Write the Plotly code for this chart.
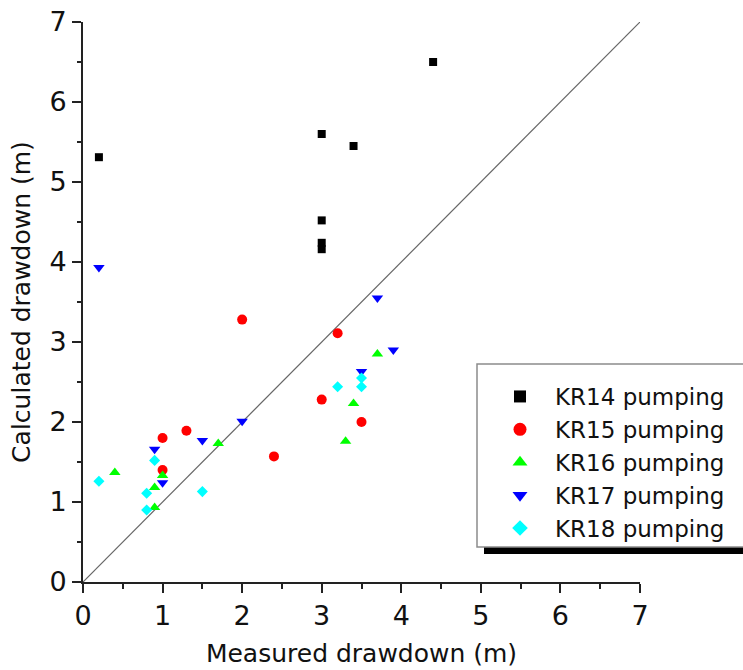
import plotly.graph_objects as go

# Measured vs calculated drawdown (m) for each pumping test
kr14_measured = [0.2, 3.0, 3.4, 3.0, 3.0, 3.0, 4.4]
kr14_calculated = [5.31, 5.60, 5.45, 4.52, 4.24, 4.16, 6.50]

kr15_measured = [1.0, 1.0, 1.3, 2.0, 2.4, 3.0, 3.2, 3.5]
kr15_calculated = [1.80, 1.40, 1.89, 3.28, 1.57, 2.28, 3.11, 2.00]

kr16_measured = [0.4, 0.9, 0.9, 1.0, 1.7, 3.3, 3.4, 3.7]
kr16_calculated = [1.37, 1.18, 0.93, 1.33, 1.73, 1.76, 2.23, 2.85]

kr17_measured = [0.2, 0.9, 1.0, 1.5, 2.0, 3.5, 3.7, 3.9]
kr17_calculated = [3.93, 1.66, 1.24, 1.77, 2.01, 2.63, 3.55, 2.90]

kr18_measured = [0.2, 0.8, 0.8, 0.9, 1.5, 3.2, 3.5, 3.5]
kr18_calculated = [1.26, 1.11, 0.90, 1.52, 1.13, 2.44, 2.44, 2.55]

series_names = ["KR14 pumping", "KR15 pumping", "KR16 pumping", "KR17 pumping", "KR18 pumping"]
one_to_one = [0, 7]
tick_values = [0, 1, 2, 3, 4, 5, 6, 7]

FONT = "DejaVu Sans"

series = [
    (kr14_measured, kr14_calculated, "square", "#000000", 8, 12),
    (kr15_measured, kr15_calculated, "circle", "#ff0000", 10, 13),
    (kr16_measured, kr16_calculated, "triangle-up", "#00ff00", 10, 13),
    (kr17_measured, kr17_calculated, "triangle-down", "#0000ff", 10, 13),
    (kr18_measured, kr18_calculated, "diamond", "#00ffff", 8.5, 12),
]

fig = go.Figure()

# 1:1 reference line
fig.add_trace(go.Scatter(
    x=one_to_one, y=one_to_one, mode="lines",
    line=dict(color="#666666", width=1.2),
    showlegend=False, hoverinfo="skip",
))

for name, (xs, ys, sym, col, size, leg_size) in zip(series_names, series):
    fig.add_trace(go.Scatter(
        x=xs, y=ys, mode="markers", name=name,
        marker=dict(symbol=sym, color=col, size=size, line=dict(width=0)),
        showlegend=False,
    ))
    # legend-only entry with a larger symbol
    fig.add_trace(go.Scatter(
        x=[None], y=[None], mode="markers", name=name,
        marker=dict(symbol=sym, color=col, size=leg_size, line=dict(width=0)),
        showlegend=True,
    ))

W, H = 743, 670
L, R, T, B = 83, 103, 22, 88
pw, ph = W - L - R, H - T - B


def px_x(p):
    return (p - L) / pw


def px_y(p):
    return (H - B - p) / ph


# legend frame and its drop shadow
fig.add_shape(type="rect", xref="paper", yref="paper",
              x0=px_x(484), x1=px_x(800), y0=px_y(554), y1=px_y(371),
              fillcolor="#000000", line=dict(width=0), layer="above")
fig.add_shape(type="rect", xref="paper", yref="paper",
              x0=px_x(477), x1=px_x(800), y0=px_y(547), y1=px_y(364),
              fillcolor="#ffffff", line=dict(color="#8c8c8c", width=1.5), layer="above")

axis_common = dict(
    range=[0, 7],
    tickvals=tick_values,
    ticks="outside", ticklen=9, tickwidth=1.5, tickcolor="#222222",
    showline=True, linewidth=2, linecolor="#222222",
    showgrid=False, zeroline=False, mirror=False,
    tickfont=dict(family=FONT, size=27, color="#111111"),
    minor=dict(ticks="outside", ticklen=4.5, tickwidth=1.5, tickcolor="#222222", dtick=0.5, showgrid=False),
)

fig.update_layout(
    width=W, height=H,
    margin=dict(l=L, r=R, t=T, b=B, autoexpand=False),
    paper_bgcolor="white", plot_bgcolor="white",
    font=dict(family=FONT, color="#111111"),
    xaxis=dict(axis_common, title=dict(text="Measured drawdown (m)",
                                       font=dict(family=FONT, size=25), standoff=14)),
    yaxis=dict(axis_common, title=dict(text="Calculated drawdown (m)",
                                       font=dict(family=FONT, size=25), standoff=12)),
    legend=dict(
        x=px_x(485), y=px_y(375), xanchor="left", yanchor="top",
        bgcolor="rgba(0,0,0,0)", borderwidth=0,
        font=dict(family=FONT, size=23, color="#111111"),
        itemwidth=60, tracegroupgap=0,
    ),
)

fig.write_html("out.html")
